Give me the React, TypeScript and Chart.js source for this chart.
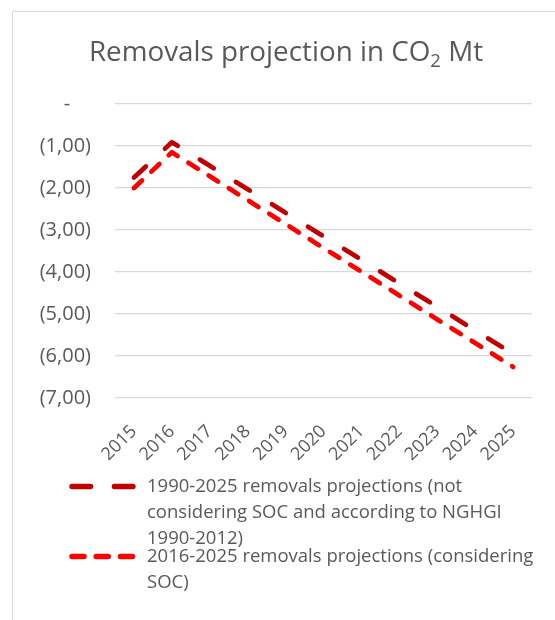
import React, { useEffect, useRef } from 'react';
import { Chart, registerables } from 'chart.js';

Chart.register(...registerables);

// ---- data ----
const years = ['2015', '2016', '2017', '2018', '2019', '2020', '2021', '2022', '2023', '2024', '2025'];
const removals1990 = [-1.75, -0.91, -1.47, -2.03, -2.59, -3.15, -3.71, -4.27, -4.83, -5.39, -5.95];
const removals2016 = [-2.0, -1.15, -1.72, -2.29, -2.86, -3.43, -3.99, -4.56, -5.13, -5.69, -6.26];
const legend1990Lines = ['1990-2025 removals projections (not', 'considering SOC and according to NGHGI', '1990-2012)'];
const legend2016Lines = ['2016-2025 removals projections (considering', 'SOC)'];
const titleMain = 'Removals projection in CO';
const titleSub = '2';
const titleTail = ' Mt';
const yMin = -7;
const yMax = 0;

const FONT = "'Open Sans', sans-serif";
const TEXT = '#595959';
const DARK = '#C00000';
const RED = '#FF0000';

export default function App() {
  const ref = useRef<HTMLCanvasElement>(null);

  useEffect(() => {
    const canvas = ref.current;
    if (!canvas) return;

    const titlePlugin = {
      id: 'subTitle',
      afterDraw(chart: any) {
        const ctx = chart.ctx as CanvasRenderingContext2D;
        ctx.save();
        ctx.fillStyle = TEXT;
        ctx.textBaseline = 'alphabetic';
        ctx.textAlign = 'left';
        const big = `27.8px ${FONT}`;
        const small = `18.5px ${FONT}`;
        ctx.font = big;
        const w1 = ctx.measureText(titleMain).width;
        const w3 = ctx.measureText(titleTail).width;
        ctx.font = small;
        const w2 = ctx.measureText(titleSub).width;
        const total = w1 + w2 + w3;
        let x = 286 - total / 2;
        const base = 61;
        ctx.font = big;
        ctx.fillText(titleMain, x, base);
        x += w1;
        ctx.font = small;
        ctx.fillText(titleSub, x, base + 6);
        x += w2;
        ctx.font = big;
        ctx.fillText(titleTail, x, base);
        ctx.restore();
      },
    };

    const legendPlugin = {
      id: 'wrapLegend',
      afterDraw(chart: any) {
        const ctx = chart.ctx as CanvasRenderingContext2D;
        const entries = [
          { color: DARK, dash: [18.5, 23.9], lines: legend1990Lines, y: 486.5 },
          { color: RED, dash: [12, 12.2], lines: legend2016Lines, y: 556.5 },
        ];
        ctx.save();
        for (const e of entries) {
          ctx.strokeStyle = e.color;
          ctx.lineWidth = 5.5;
          ctx.lineCap = 'round';
          ctx.setLineDash(e.dash);
          ctx.beginPath();
          ctx.moveTo(72, e.y);
          ctx.lineTo(133.3, e.y);
          ctx.stroke();
          ctx.setLineDash([]);
          ctx.fillStyle = TEXT;
          ctx.font = `18.5px ${FONT}`;
          ctx.textBaseline = 'middle';
          ctx.textAlign = 'left';
          e.lines.forEach((ln, i) => ctx.fillText(ln, 147, e.y + i * 26));
        }
        ctx.restore();
      },
    };

    const chart = new Chart(canvas, {
      type: 'line',
      data: {
        labels: years,
        datasets: [
          {
            label: legend1990Lines.join(' '),
            data: removals1990,
            borderColor: DARK,
            backgroundColor: DARK,
            borderWidth: 4.75,
            borderCapStyle: 'round',
            borderJoinStyle: 'round',
            borderDash: [16.25, 26.15],
            pointRadius: 0,
            tension: 0,
            fill: false,
          },
          {
            label: legend2016Lines.join(' '),
            data: removals2016,
            borderColor: RED,
            backgroundColor: RED,
            borderWidth: 4.75,
            borderCapStyle: 'round',
            borderJoinStyle: 'round',
            borderDash: [11, 12.9],
            pointRadius: 0,
            tension: 0,
            fill: false,
          },
        ],
      },
      options: {
        responsive: false,
        animation: false,
        devicePixelRatio: 1,
        layout: { padding: { top: 104, right: 23, left: 0, bottom: 0 } },
        plugins: {
          legend: { display: false },
          title: { display: false },
          tooltip: { enabled: false },
        },
        scales: {
          x: {
            offset: true,
            grid: { display: false },
            border: { display: false },
            ticks: {
              minRotation: 45,
              maxRotation: 45,
              autoSkip: false,
              color: TEXT,
              font: { family: FONT, size: 18 },
              padding: 15,
            },
            afterFit: (s: any) => {
              s.height = 222;
            },
          },
          y: {
            min: yMin,
            max: yMax,
            ticks: {
              stepSize: 1,
              color: TEXT,
              font: { family: FONT, size: 20 },
              padding: 24,
              callback: (v: any) => {
                const n = Number(v);
                if (Math.abs(n) < 1e-9) return '-    ';
                return `(${Math.abs(n)},00)`;
              },
            },
            grid: { color: '#d9d9d9', lineWidth: 1.3, drawTicks: false },
            border: { display: false },
            afterFit: (s: any) => {
              s.width = 115;
            },
          },
        },
      } as any,
      plugins: [titlePlugin, legendPlugin],
    });

    return () => chart.destroy();
  }, []);

  return (
    <div style={{ position: 'fixed', left: 0, top: 0, width: 555, height: 620, background: '#fff', overflow: 'hidden' }}>
      <div
        style={{
          position: 'absolute',
          left: 12,
          top: 11,
          width: 620,
          height: 700,
          border: '1px solid #d9d9d9',
          boxSizing: 'border-box',
        }}
      />
      <canvas ref={ref} width={555} height={620} style={{ position: 'absolute', left: 0, top: 0 }} />
    </div>
  );
}
